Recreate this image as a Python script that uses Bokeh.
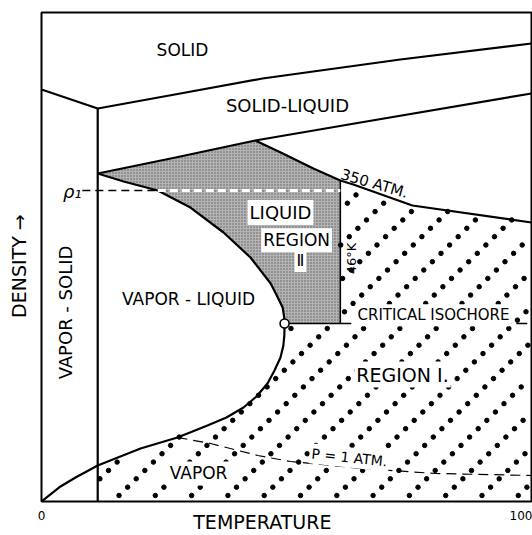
import numpy as np
from bokeh.plotting import figure
from bokeh.models import Label, Range1d, FixedTicker
from bokeh.embed import file_html
from bokeh.resources import INLINE

# ---- data (temperature scale 0-100, density in arbitrary units 0-100) ----
T_TRIPLE = 11.7
T_46K = 62.2
T_CRIT = 50.6
RHO_CRIT = 36.4
RHO_1 = 63.6

solid_left_T = [0, 11.7]
solid_left_rho = [84.25, 80.37]
solidus_T = [11.7, 28.9, 46.0, 74.7, 102]
solidus_rho = [80.37, 83.44, 86.50, 90.39, 93.66]
liquidus_T = [11.7, 27.9, 44.5, 66.4, 102]
liquidus_rho = [67.08, 70.35, 73.82, 77.51, 83.44]
isobar350_T = [44.5, 49.8, 56.6, 62.2, 64.9, 77.2, 102]
isobar350_rho = [73.82, 71.37, 68.10, 65.64, 64.83, 60.53, 57.06]
coex_liq_T = [11.7, 17.1, 24.2, 31.0, 37.9, 43.5, 47.7, 48.9, 50.2, 50.5, 50.6]
coex_liq_rho = [67.08, 65.44, 63.60, 60.12, 55.01, 49.90, 44.58, 42.3, 39.67, 37.8, 36.4]
coex_vap_T = [50.6, 50.55, 50.35, 49.75, 48.5, 47.04, 44.75, 42.05, 38.5, 34.55, 28.31,
              20.61, 11.7, 7.08, 3.96, 0]
coex_vap_rho = [36.4, 34.0, 31.9, 29.45, 26.79, 24.13, 21.47, 19.22, 17.18, 15.54, 13.09,
                10.84, 7.36, 4.91, 3.07, 0]
isobar1_T = [28.3, 35.2, 45.0, 51.8, 66.8, 82.0, 102]
isobar1_rho = [13.1, 11.86, 9.41, 8.18, 6.75, 5.73, 5.32]
rho1_start_T = 8.5
rho1_cross_T = 24.2
x_ticks = [0, 100]

X_MAX, Y_MAX = 102, 100
NBSP = "\u00a0"

p = figure(width=532, height=535, x_range=Range1d(0, X_MAX), y_range=Range1d(0, Y_MAX),
           output_backend="svg", toolbar_location=None,
           min_border_left=41, min_border_right=1, min_border_top=12, min_border_bottom=34)
p.grid.visible = False
p.outline_line_color = "black"
p.outline_line_width = 2
p.background_fill_color = "white"

FONT = "DejaVu Sans"
p.xaxis.ticker = FixedTicker(ticks=x_ticks)
p.xaxis.major_tick_line_color = None
p.xaxis.minor_tick_line_color = None
p.xaxis.axis_line_color = None
p.xaxis.major_label_text_font = FONT
p.xaxis.major_label_text_font_size = "12px"
p.xaxis.major_label_text_color = "black"
p.xaxis.major_label_standoff = 3
# the title sits left of the frame centre in the original: trailing no-break spaces shift it
p.xaxis.axis_label = "TEMPERATURE" + NBSP * 8
p.xaxis.axis_label_text_font = FONT
p.xaxis.axis_label_text_font_size = "19px"
p.xaxis.axis_label_text_font_style = "normal"
p.xaxis.axis_label_text_color = "black"
p.xaxis.axis_label_standoff = -12

p.yaxis.ticker = FixedTicker(ticks=[])
p.yaxis.major_tick_line_color = None
p.yaxis.minor_tick_line_color = None
p.yaxis.axis_line_color = None
p.yaxis.axis_label = "DENSITY \u2192" + NBSP * 3
p.yaxis.axis_label_text_font = FONT
p.yaxis.axis_label_text_font_size = "19px"
p.yaxis.axis_label_text_font_style = "normal"
p.yaxis.axis_label_text_color = "black"
p.yaxis.axis_label_standoff = 12

# ---- region II (liquid) polygon ----
reg2_T = liquidus_T[:3] + isobar350_T[1:4] + [T_46K, T_CRIT] + coex_liq_T[::-1][1:-1]
reg2_rho = liquidus_rho[:3] + isobar350_rho[1:4] + [RHO_CRIT, RHO_CRIT] + coex_liq_rho[::-1][1:-1]
p.patch(reg2_T, reg2_rho, fill_color="#b4b4b4", line_color=None,
        hatch_pattern="dot", hatch_color="#222222", hatch_scale=3, hatch_weight=1, hatch_alpha=0.6)

# ---- region I dotted texture ----
reg1_T = isobar350_T[3:] + [X_MAX, T_TRIPLE] + coex_vap_T[::-1][3:] + [T_46K]
reg1_rho = isobar350_rho[3:] + [0, 0] + coex_vap_rho[::-1][3:] + [RHO_CRIT]


def inside(px, py, vx, vy):
    vx = np.asarray(vx, float)
    vy = np.asarray(vy, float)
    c = np.zeros(px.shape, bool)
    j = len(vx) - 1
    for i in range(len(vx)):
        den = vy[j] - vy[i]
        den = den if den != 0 else 1e-12
        cond = ((vy[i] > py) != (vy[j] > py)) & (px < (vx[j] - vx[i]) * (py - vy[i]) / den + vx[i])
        c ^= cond
        j = i
    return c


# lattice of the texture (screen pitch converted to axis units)
ii, jj = np.meshgrid(np.arange(-25, 25), np.arange(-2, 70))
dots_x = 46.36 + ii * 7.556 + jj * 1.790
dots_y = 1.227 + jj * 1.7076
dots_x = dots_x.ravel()
dots_y = dots_y.ravel()
keep = inside(dots_x, dots_y, reg1_T, reg1_rho) & (dots_x > 0.4) & (dots_x < X_MAX - 0.4) & (dots_y > 0.5)
p.scatter(dots_x[keep], dots_y[keep], size=4.5, color="black")

# ---- boundary lines ----
LW = 2.2
p.line(solid_left_T, solid_left_rho, line_color="black", line_width=LW)
p.line(solidus_T, solidus_rho, line_color="black", line_width=LW)
p.line(liquidus_T, liquidus_rho, line_color="black", line_width=LW)
p.line([T_TRIPLE, T_TRIPLE], [0, solidus_rho[0]], line_color="black", line_width=LW)
p.line(coex_liq_T + coex_vap_T[1:], coex_liq_rho + coex_vap_rho[1:], line_color="black",
       line_width=LW, line_join="round")
p.line(isobar350_T, isobar350_rho, line_color="black", line_width=LW, line_join="round")
p.line([T_46K, T_46K], [RHO_CRIT, isobar350_rho[3]], line_color="black", line_width=1.6)
p.line([T_CRIT, T_46K], [RHO_CRIT, RHO_CRIT], line_color="black", line_width=1.6)
p.line([T_46K, X_MAX], [RHO_CRIT, RHO_CRIT], line_color="black", line_width=1.3, line_dash="11 5")
p.line(isobar1_T, isobar1_rho, line_color="black", line_width=1.2, line_dash="10 6")
p.line([rho1_start_T, rho1_cross_T], [RHO_1, RHO_1], line_color="black", line_width=1.3, line_dash="8 5")
p.line([rho1_cross_T, T_46K], [RHO_1, RHO_1], line_color="white", line_width=3, line_dash="8 4")

p.scatter([T_CRIT], [RHO_CRIT], size=9, marker="circle", fill_color="white",
          line_color="black", line_width=1.6)


def lab(x, y, text, size=17, angle=0.0, bg=None, style="normal"):
    kw = {}
    if bg:
        kw = dict(background_fill_color=bg, padding=2)
    p.add_layout(Label(x=x, y=y, text=text, text_font=FONT, text_font_size=f"{size}px",
                       text_align="center", text_baseline="middle", angle=angle,
                       text_color="black", text_font_style=style, **kw))


lab(29.35, 92.43, "SOLID", 17)
lab(51.2, 80.98, "SOLID-LIQUID", 18)
lab(69.3, 65.0, "350 ATM.", 15, angle=-0.28)
lab(6.4, 63.4, "\u03c1\u2081", 18, style="italic")
lab(49.75, 59.1, "LIQUID", 18, bg="white")
lab(53.1, 53.4, "REGION", 17, bg="white")
lab(53.9, 49.3, "\u2161", 16, bg="white")
lab(64.5, 49.7, "46\u00b0K", 13, angle=np.pi / 2)
lab(30.6, 41.4, "VAPOR - LIQUID", 17)
lab(5.0, 38.65, "VAPOR - SOLID", 18, angle=np.pi / 2)
lab(81.6, 38.1, "CRITICAL ISOCHORE", 15, bg="white")
lab(75.15, 25.97, "REGION \u2160.", 19, bg="white")
lab(64.1, 9.0, "P = 1 ATM.", 14, angle=-0.105, bg="white")
lab(32.7, 5.73, "VAPOR", 17, bg="white")

open("out.html", "w").write(file_html(p, INLINE))
